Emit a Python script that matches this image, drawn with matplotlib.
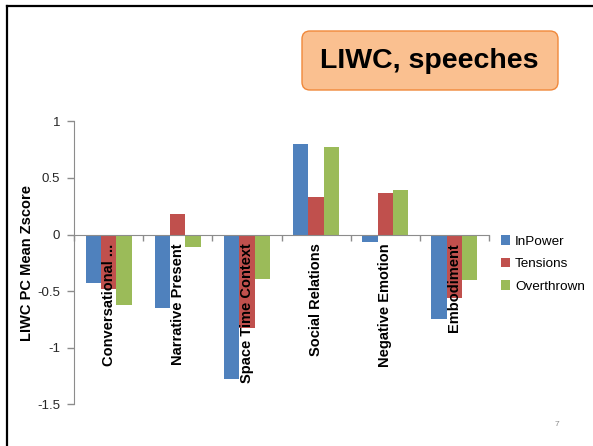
import matplotlib
matplotlib.use("Agg")
import matplotlib.pyplot as plt
import numpy as np
from matplotlib.patches import FancyBboxPatch, Patch
from matplotlib.lines import Line2D
from matplotlib.transforms import IdentityTransform, offset_copy

plt.rcParams['font.family'] = ['Liberation Sans', 'DejaVu Sans']

# LIWC principal components, mean z-scores per group
categories = ["Conversational ...", "Narrative Present", "Space Time Context",
              "Social Relations", "Negative Emotion", "Embodiment"]
in_power = [-0.43, -0.65, -1.28, 0.80, -0.07, -0.75]
tensions = [-0.48, 0.18, -0.83, 0.33, 0.37, -0.56]
overthrown = [-0.62, -0.11, -0.39, 0.77, 0.39, -0.40]
series_names = ["InPower", "Tensions", "Overthrown"]
y_ticks = [1, 0.5, 0, -0.5, -1, -1.5]
y_tick_labels = ["1", "0.5", "0", "-0.5", "-1", "-1.5"]

colors = ["#4F81BD", "#C0504D", "#9BBB59"]
axis_gray = "#8C8C8C"

W, H = 593, 446
fig = plt.figure(figsize=(W / 100, H / 100), dpi=100)
fig.patch.set_facecolor("white")

# slide frame: heavy rule along top and left
fig.add_artist(Line2D([6.5 / W, 1], [1 - 5.5 / H, 1 - 5.5 / H], color="black", lw=1.6,
                      transform=fig.transFigure))
fig.add_artist(Line2D([6.5 / W, 6.5 / W], [0, 1 - 5.5 / H], color="black", lw=1.6,
                      transform=fig.transFigure))

# chart area
ax = fig.add_axes([74 / W, 1 - 404.3 / H, 415 / W, 283 / H])
x = np.arange(len(categories))
bw = 1 / 4.5
for k, vals in enumerate([in_power, tensions, overthrown]):
    ax.bar(x + (k - 1) * bw, vals, width=bw, color=colors[k], label=series_names[k],
           linewidth=0, zorder=2)

ax.set_xlim(-0.5, len(categories) - 0.5)
ax.set_ylim(-1.5, 1)
ax.set_yticks(y_ticks)
ax.set_yticklabels(y_tick_labels)
ax.tick_params(axis="y", length=5, width=1, color=axis_gray, pad=5,
               labelsize=9.5, labelcolor="#262626", direction="out")

for s in ["top", "right"]:
    ax.spines[s].set_visible(False)
ax.spines["left"].set_color(axis_gray)
ax.spines["bottom"].set_color(axis_gray)
ax.spines["bottom"].set_position(("data", 0))
ax.spines["bottom"].set_zorder(3)

# category boundary ticks on the zero line
ax.set_xticks(np.arange(len(categories) + 1) - 0.5)
ax.set_xticklabels([])
ax.tick_params(axis="x", length=4, width=1, color=axis_gray, direction="out")

lab_tr = offset_copy(ax.transData, fig=fig, x=0, y=-9, units="dots")
for i, name in enumerate(categories):
    ax.text(i, 0, name, rotation=90, ha="center", va="top", fontsize=10.5,
            fontweight="bold", color="black", transform=lab_tr)

ax.set_ylabel("LIWC PC Mean Zscore", fontsize=10.5, fontweight="bold")
ax.yaxis.set_label_coords(-0.096, 0.5)

handles = [Patch(facecolor=c, edgecolor="none") for c in colors]
ax.legend(handles, series_names, loc="center left",
          bbox_to_anchor=(501 / W, 1 - 264 / H), bbox_transform=fig.transFigure,
          frameon=False, fontsize=9.7, handlelength=0.7, handleheight=0.7,
          handletextpad=0.35, labelspacing=0.75, borderpad=0, borderaxespad=0)

# title box
fig.patches.append(FancyBboxPatch((302, H - 90), 256, 59,
                                  boxstyle="round,pad=0,rounding_size=8",
                                  facecolor="#FAC090", edgecolor="#F0883A", lw=1,
                                  transform=IdentityTransform()))
fig.text(429 / W, 1 - 61 / H, "LIWC, speeches", ha="center", va="center",
         fontsize=20.5, fontweight="bold", color="black")

fig.text(557 / W, 1 - 425 / H, "7", ha="center", va="center", fontsize=6,
         color="#8C8C8C")

fig.savefig("out.png", dpi=100)
